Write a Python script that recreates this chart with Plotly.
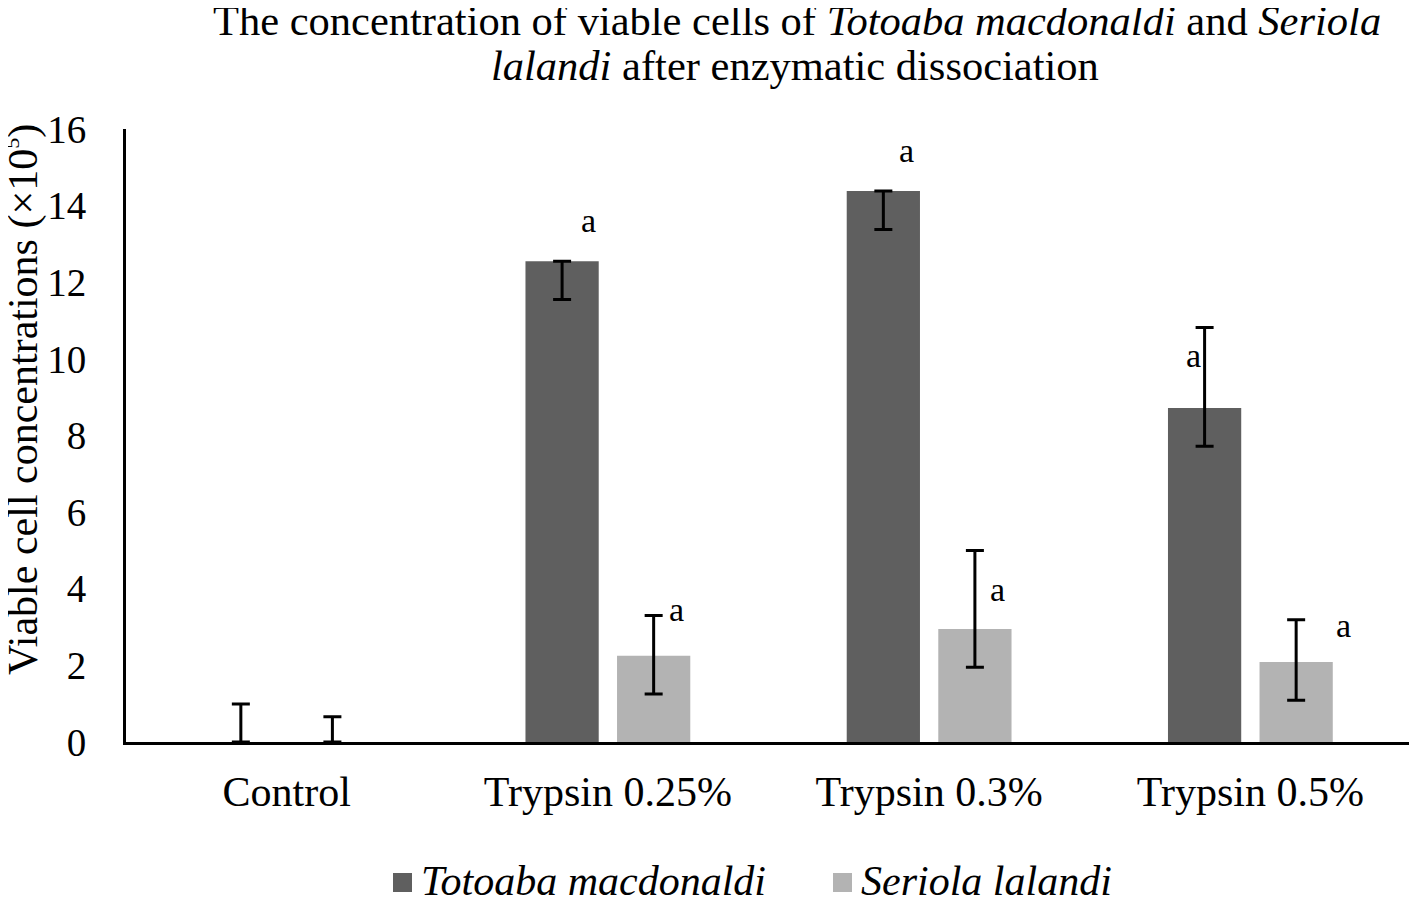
import plotly.graph_objects as go

# data (values x10^5 cells)
categories = ["Control", "Trypsin 0.25%", "Trypsin 0.3%", "Trypsin 0.5%"]

totoaba = [0.0, 12.55, 14.38, 8.72]
totoaba_err_up = [0.99, 0.0, 0.0, 2.1]
totoaba_err_down = [0.0, 1.0, 1.0, 1.0]

seriola = [0.0, 2.25, 2.95, 2.09]
seriola_err_up = [0.66, 1.05, 2.05, 1.1]
seriola_err_down = [0.0, 1.0, 1.0, 1.0]

totoaba_letters = ["", "a", "a", "a"]
seriola_letters = ["", "a", "a", "a"]

series_names = ["Totoaba macdonaldi", "Seriola lalandi"]

FONT = "Liberation Serif, Times New Roman, serif"
DARK = "#5f5f5f"
LIGHT = "#b3b3b3"

# the page body has an 8px margin, so the figure is drawn 8px in from the corner
O = 8
W, H = 1417 - O, 898 - O
L, T = 126 - O, 129 - O
R, B = W - (1411 - O), H - (742 - O)
PW, PH = W - L - R, H - T - B


def px(x):
    # screen pixel -> paper x
    return (x - O - L) / PW


def py(y):
    # screen pixel -> paper y
    return (H - B - (y - O)) / PH


fig = go.Figure()

for vals, up, down, color, name in (
    (totoaba, totoaba_err_up, totoaba_err_down, DARK, series_names[0]),
    (seriola, seriola_err_up, seriola_err_down, LIGHT, series_names[1]),
):
    fig.add_trace(go.Bar(
        x=categories,
        y=vals,
        name=name,
        showlegend=False,
        marker=dict(color=color, line=dict(width=0)),
        error_y=dict(
            type="data",
            symmetric=False,
            array=up,
            arrayminus=down,
            color="black",
            thickness=3,
            width=9,
        ),
    ))

# significance letters, nudged by hand like in the original
dark_nudge = [(0, 0), (27, 1.05), (23, 1.07), (-11, 1.36)]
light_nudge = [(0, 0), (23, 1.22), (22, 1.04), (47, 0.96)]

annotations = []
for i, cat in enumerate(categories):
    for letters, vals, nudge, side in (
        (totoaba_letters, totoaba, dark_nudge, -46),
        (seriola_letters, seriola, light_nudge, 46),
    ):
        if not letters[i]:
            continue
        dx, dy = nudge[i]
        annotations.append(dict(
            x=cat, y=vals[i] + dy, xref="x", yref="y",
            text=letters[i], showarrow=False, xshift=side + dx,
            font=dict(family=FONT, size=34, color="black"),
        ))

# title, two lines
title_lines = [
    ("The concentration of viable cells of <i>Totoaba macdonaldi</i> and <i>Seriola</i>", 797, 21),
    ("<i>lalandi</i> after enzymatic dissociation", 795, 66),
]
for text, cx, cy in title_lines:
    annotations.append(dict(
        x=px(cx), y=py(cy), xref="paper", yref="paper",
        xanchor="center", yanchor="middle", text=text, showarrow=False,
        font=dict(family=FONT, size=42.5, color="black"),
    ))

# y axis title, with a small raised 5 like the original
annotations.append(dict(
    x=px(23), y=py(400), xref="paper", yref="paper",
    xanchor="center", yanchor="middle", textangle=-90,
    text="Viable cell concentrations (×10<sup><span style='font-size:22px'>5</span></sup>)",
    showarrow=False,
    font=dict(family=FONT, size=42, color="black"),
))

# legend drawn by hand so the swatches match the original size
shapes = []
legend_items = [(series_names[0], DARK, 393), (series_names[1], LIGHT, 833)]
for name, color, x0 in legend_items:
    shapes.append(dict(
        type="rect", xref="paper", yref="paper",
        x0=px(x0), x1=px(x0 + 19), y0=py(892), y1=py(873),
        fillcolor=color, line=dict(width=0),
    ))
    annotations.append(dict(
        x=px(x0 + 26), y=py(881), xref="paper", yref="paper",
        xanchor="left", yanchor="middle", text=f"<i>{name}</i>", showarrow=False,
        font=dict(family=FONT, size=42, color="black"),
    ))

fig.update_layout(
    width=W,
    height=H,
    paper_bgcolor="white",
    plot_bgcolor="white",
    font=dict(family=FONT, size=40, color="black"),
    barmode="group",
    bargap=0.43,
    bargroupgap=0.2,
    showlegend=False,
    margin=dict(l=L, r=R, t=T, b=B, autoexpand=False),
    xaxis=dict(
        showline=True,
        linecolor="black",
        linewidth=3,
        ticks="",
        showgrid=False,
        automargin=False,
        tickfont=dict(family=FONT, size=42),
        ticklabelstandoff=11,
    ),
    yaxis=dict(
        range=[0, 16],
        dtick=2,
        showline=True,
        linecolor="black",
        linewidth=3,
        ticks="",
        showgrid=False,
        zeroline=False,
        automargin=False,
        tickfont=dict(family=FONT, size=39),
        ticklabelstandoff=29,
    ),
    annotations=annotations,
    shapes=shapes,
)

fig.write_html("out.html")
